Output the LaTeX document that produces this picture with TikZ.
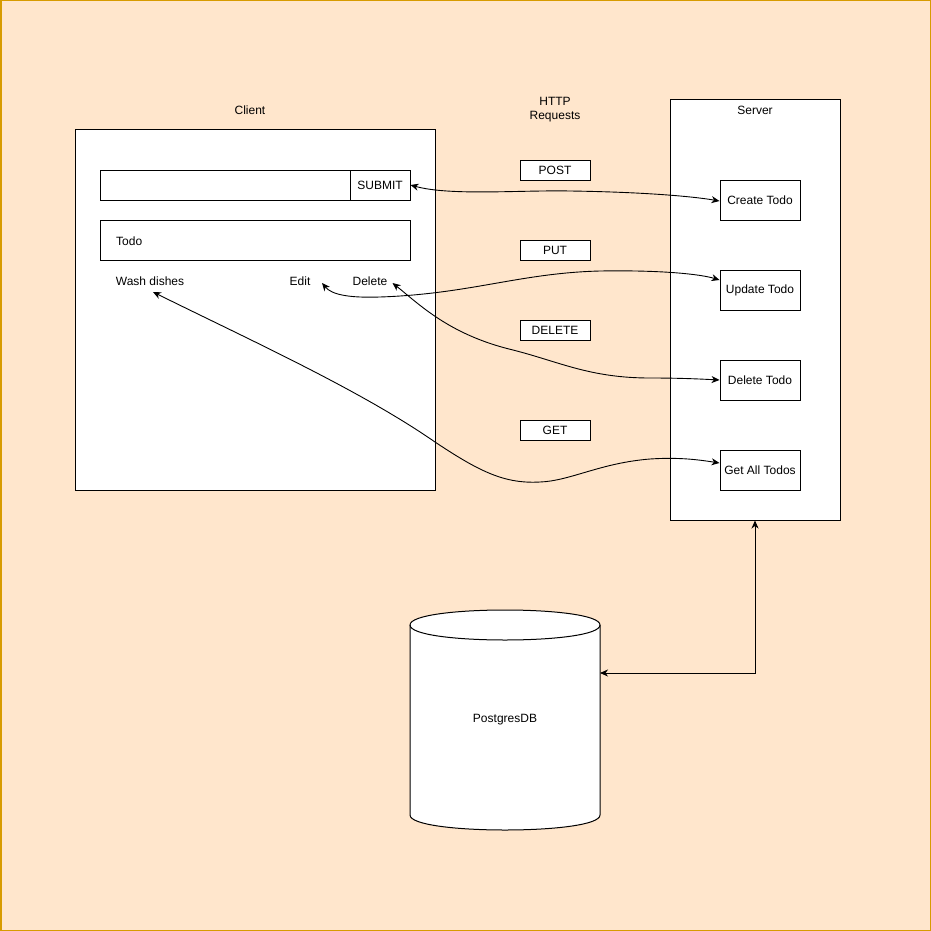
\documentclass[tikz,border=0pt]{standalone}
\usepackage{fontspec}
\setmainfont{Liberation Sans}
\usetikzlibrary{arrows.meta}
\definecolor{bgfill}{HTML}{FFE6CC}
\definecolor{bgline}{HTML}{D79B00}
\begin{document}
\begin{tikzpicture}[x=1pt,y=-1pt,
  font=\fontsize{12}{14}\selectfont,
  box/.style={draw=black, fill=white, line width=1pt, inner sep=0pt},
  lbl/.style={inner sep=0pt},
  tipc/.tip={Stealth[length=8pt,width=7pt,inset=2.5pt]},
  conn/.style={line width=0.9pt, tipc-tipc}]
\useasboundingbox (0,0) rectangle (931,931);
\fill[bgfill] (0,0) rectangle (931,931);
\draw[bgline, line width=1.5pt] (0.75,0.75) rectangle (930.25,930.25);

% Client
\node[box, minimum width=360pt, minimum height=360pt] (client) at (255,310) {};
\node[lbl] (clientlbl) at (250,110) {Client};
\node[box, minimum width=250pt, minimum height=30pt] (input) at (225,185) {};
\node[box, minimum width=60pt, minimum height=30pt] (submit) at (380,185) {SUBMIT};
\node[box, minimum width=310pt, minimum height=40pt] (todo) at (255,240) {};
\node[lbl, anchor=west] (todolbl) at (116,241) {Todo};
\node[lbl] (wash) at (150,281) {Wash dishes};
\node[lbl] (edit) at (300,281) {Edit};
\node[lbl] (del) at (370,281) {Delete};

% HTTP requests
\node[lbl, align=center] (http) at (555,110) {HTTP\\Requests};
\node[box, minimum width=70pt, minimum height=20pt] (post) at (555,170) {POST};
\node[box, minimum width=70pt, minimum height=20pt] (put) at (555,250) {PUT};
\node[box, minimum width=70pt, minimum height=20pt] (delete) at (555,330) {DELETE};
\node[box, minimum width=70pt, minimum height=20pt] (get) at (555,430) {GET};

% Server
\node[box, minimum width=170pt, minimum height=420pt] (server) at (755,310) {};
\node[lbl] (serverlbl) at (755,110) {Server};
\node[box, minimum width=80pt, minimum height=40pt] (create) at (760,200) {Create Todo};
\node[box, minimum width=80pt, minimum height=40pt] (update) at (760,290) {Update Todo};
\node[box, minimum width=80pt, minimum height=40pt] (deltodo) at (760,380) {Delete Todo};
\node[box, minimum width=80pt, minimum height=40pt] (getall) at (760,470) {Get All Todos};

% Database cylinder
\filldraw[fill=white, draw=black, line width=1pt]
  (410,625) -- (410,815) .. controls (410,835) and (600,835) .. (600,815)
  -- (600,625) .. controls (600,605) and (410,605) .. (410,625) -- cycle;
\draw[line width=1pt] (410,625) .. controls (410,645) and (600,645) .. (600,625);
\node[lbl] (db) at (505,720) {PostgresDB};
\coordinate (dbport) at (600,673);

% Connectors
\draw[conn] (submit.east) .. controls (450,196) and (520,190) .. (570,191)
  .. controls (640,192) and (690,196) .. ([yshift=-1pt]create.west);

\draw[conn] ([xshift=11.5pt,yshift=-2pt]edit.east) .. controls (332,295) and (350,298) .. (380,297)
  .. controls (470,294) and (520,273) .. (600,271)
  .. controls (660,270) and (700,274) .. ([yshift=10pt]update.west);

\draw[conn] ([xshift=5pt,yshift=-2pt]del.east) .. controls (420,305) and (450,335) .. (513,350)
  .. controls (560,362) and (590,378) .. (650,378)
  .. controls (680,378) and (700,379) .. (deltodo.west);

\draw[conn] ([xshift=3pt,yshift=-11pt]wash.center) .. controls (250,340) and (360,390) .. (435,442)
  .. controls (480,472) and (505,484) .. (540,482)
  .. controls (570,481) and (600,463) .. (650,459)
  .. controls (680,457) and (700,460) .. ([yshift=7pt]getall.west);

\draw[conn] (server.south) |- (dbport);
\end{tikzpicture}
\end{document}
